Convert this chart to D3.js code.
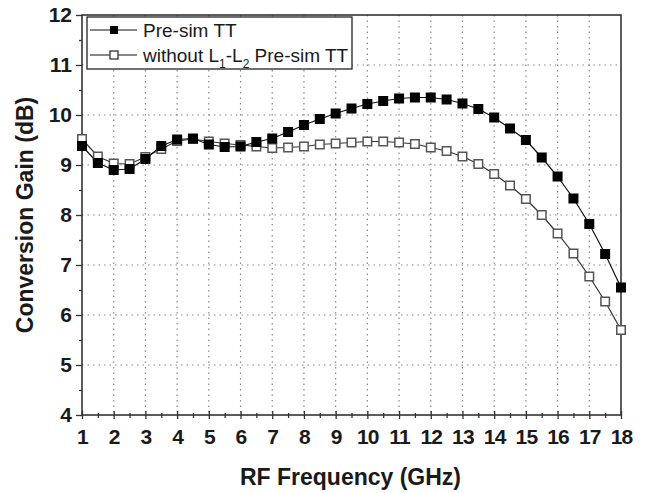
<!DOCTYPE html>
<html>
<head>
<meta charset="utf-8">
<script src="https://cdn.jsdelivr.net/npm/d3@7"></script>
<style>
  body { margin: 0; background: #fff; }
  svg { display: block; font-family: "Liberation Sans", Arial, sans-serif; }
</style>
</head>
<body>
<svg id="chart" width="647" height="493"></svg>
<script>
// RF frequency points (GHz), 0.5 GHz step
const freqs = [1, 1.5, 2, 2.5, 3, 3.5, 4, 4.5, 5, 5.5, 6, 6.5, 7, 7.5, 8, 8.5, 9, 9.5,
  10, 10.5, 11, 11.5, 12, 12.5, 13, 13.5, 14, 14.5, 15, 15.5, 16, 16.5, 17, 17.5, 18];

// Pre-sim TT (filled squares)
const preSim = [9.38, 9.04, 8.9, 8.92, 9.12, 9.38, 9.51, 9.53, 9.41, 9.36, 9.37, 9.46, 9.53, 9.66,
  9.8, 9.92, 10.03, 10.13, 10.22, 10.28, 10.33, 10.35, 10.35, 10.31, 10.23, 10.12, 9.95, 9.73,
  9.5, 9.15, 8.77, 8.33, 7.82, 7.22, 6.55];

// without L1-L2, Pre-sim TT (open squares)
const withoutL = [9.52, 9.17, 9.03, 9.02, 9.16, 9.32, 9.48, 9.52, 9.47, 9.43, 9.4, 9.37, 9.34,
  9.35, 9.37, 9.41, 9.43, 9.45, 9.47, 9.47, 9.45, 9.42, 9.35, 9.28, 9.17, 9.02, 8.82, 8.59,
  8.32, 8.0, 7.63, 7.23, 6.77, 6.27, 5.7];

const xTicks = d3.range(1, 19);
const yTicks = d3.range(4, 13);

const svg = d3.select('#chart');
const margin = { top: 15, right: 26, bottom: 78, left: 82 };
const width = +svg.attr('width') - margin.left - margin.right;
const height = +svg.attr('height') - margin.top - margin.bottom;

const x = d3.scaleLinear().domain([1, 18]).range([0, width]);
const y = d3.scaleLinear().domain([4, 12]).range([height, 0]);

const g = svg.append('g').attr('transform', `translate(${margin.left},${margin.top})`);

// dotted grid
g.append('g')
  .selectAll('line')
  .data(xTicks.slice(1, -1))
  .join('line')
  .attr('x1', d => x(d)).attr('x2', d => x(d))
  .attr('y1', 0).attr('y2', height)
  .attr('stroke', '#888').attr('stroke-width', 1.2).attr('stroke-dasharray', '1.5,4');
g.append('g')
  .selectAll('line')
  .data(yTicks.slice(1, -1))
  .join('line')
  .attr('y1', d => y(d)).attr('y2', d => y(d))
  .attr('x1', 0).attr('x2', width)
  .attr('stroke', '#888').attr('stroke-width', 1.2).attr('stroke-dasharray', '1.5,4');

// axes: major + minor ticks
const styleAxis = sel => {
  sel.select('.domain').remove();
  sel.selectAll('line').attr('stroke', '#333').attr('stroke-width', 1.3);
};
const styleLabels = a => a.selectAll('text')
  .attr('fill', '#1a1a1a').attr('font-size', 21).attr('font-weight', 'bold')
  .attr('font-family', '"Liberation Sans", Arial, sans-serif');

// x axis: ticks cross the axis line
g.append('g')
  .attr('transform', `translate(0,${height})`)
  .call(d3.axisBottom(x).tickValues(d3.range(1.5, 18, 1)).tickSize(3).tickFormat(''))
  .call(styleAxis)
  .call(a => a.selectAll('line').attr('y1', -2));
g.append('g')
  .attr('transform', `translate(0,${height})`)
  .call(d3.axisBottom(x).tickValues(xTicks).tickSize(4).tickPadding(10).tickFormat(d3.format('d')))
  .call(styleAxis)
  .call(a => a.selectAll('line').attr('y1', -4))
  .call(styleLabels)
  .call(a => a.selectAll('text').attr('letter-spacing', '-0.8'));

g.append('g')
  .call(d3.axisLeft(y).tickValues(d3.range(4.5, 12, 1)).tickSize(3).tickFormat(''))
  .call(styleAxis);
g.append('g')
  .call(d3.axisLeft(y).tickValues(yTicks).tickSize(6).tickPadding(4).tickFormat(d3.format('d')))
  .call(styleAxis)
  .call(styleLabels);

// frame
g.append('rect')
  .attr('width', width).attr('height', height)
  .attr('fill', 'none').attr('stroke', '#333').attr('stroke-width', 1.6);

// series
const line = d3.line().x(d => x(d[0])).y(d => y(d[1]));
const ptsFilled = freqs.map((f, i) => [f, preSim[i]]);
const ptsOpen = freqs.map((f, i) => [f, withoutL[i]]);
const ms = 10;

g.append('path').datum(ptsOpen).attr('d', line)
  .attr('fill', 'none').attr('stroke', '#333').attr('stroke-width', 1.2);
g.append('path').datum(ptsFilled).attr('d', line)
  .attr('fill', 'none').attr('stroke', '#111').attr('stroke-width', 1.2);

g.append('g').selectAll('rect')
  .data(ptsOpen)
  .join('rect')
  .attr('x', d => x(d[0]) - ms / 2 + 0.75).attr('y', d => y(d[1]) - ms / 2 + 0.75)
  .attr('width', ms - 1.5).attr('height', ms - 1.5)
  .attr('fill', '#fff').attr('stroke', '#555').attr('stroke-width', 1.5);

g.append('g').selectAll('rect')
  .data(ptsFilled)
  .join('rect')
  .attr('x', d => x(d[0]) - ms / 2).attr('y', d => y(d[1]) - ms / 2)
  .attr('width', ms).attr('height', ms)
  .attr('fill', '#000');

// legend
const lg = g.append('g').attr('transform', 'translate(5,2)');
lg.append('rect')
  .attr('width', 265).attr('height', 52)
  .attr('fill', '#fff').attr('stroke', '#222').attr('stroke-width', 1.3);
const rows = [
  { y: 13, filled: true },
  { y: 38, filled: false }
];
rows.forEach(r => {
  lg.append('line').attr('x1', 3).attr('x2', 50).attr('y1', r.y).attr('y2', r.y)
    .attr('stroke', '#111').attr('stroke-width', 1.2);
  lg.append('rect')
    .attr('x', 27 - 4).attr('y', r.y - 4).attr('width', 8).attr('height', 8)
    .attr('fill', r.filled ? '#000' : '#fff')
    .attr('stroke', r.filled ? 'none' : '#333').attr('stroke-width', 1.3);
});
lg.append('text').attr('x', 56).attr('y', 20)
  .attr('font-size', 19).attr('fill', '#1a1a1a').text('Pre-sim TT');
const t2 = lg.append('text').attr('x', 56).attr('y', 45)
  .attr('font-size', 19).attr('fill', '#1a1a1a');
t2.append('tspan').text('without L');
t2.append('tspan').attr('dy', 6).attr('font-size', 12).text('1');
t2.append('tspan').attr('dy', -6).text('-L');
t2.append('tspan').attr('dy', 6).attr('font-size', 12).text('2');
t2.append('tspan').attr('dy', -6).text(' Pre-sim TT');

// axis titles
svg.append('text')
  .attr('x', margin.left + width / 2 - 1).attr('y', 485)
  .attr('text-anchor', 'middle').attr('font-size', 23).attr('font-weight', 'bold')
  .attr('fill', '#1a1a1a').text('RF Frequency (GHz)');
svg.append('text')
  .attr('transform', `translate(33,${margin.top + height / 2}) rotate(-90)`)
  .attr('text-anchor', 'middle').attr('font-size', 23).attr('font-weight', 'bold')
  .attr('fill', '#1a1a1a').text('Conversion Gain (dB)');
</script>
</body>
</html>
